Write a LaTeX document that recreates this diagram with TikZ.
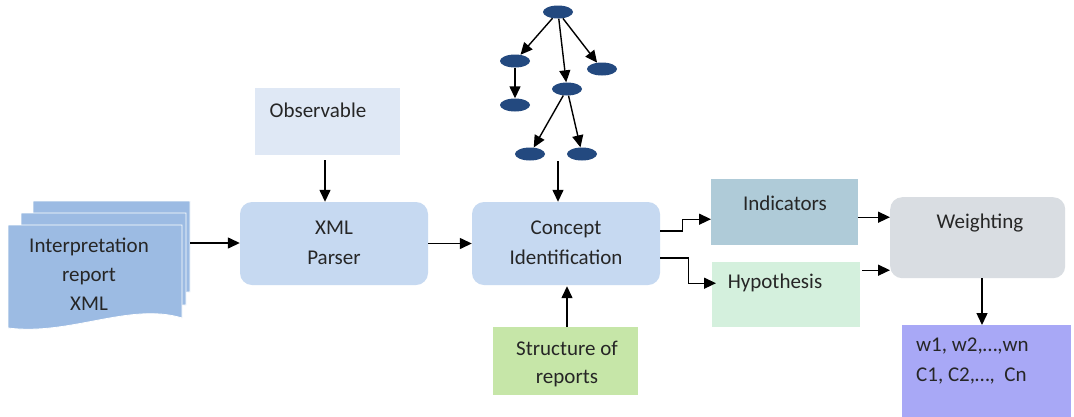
\documentclass[tikz,border=0pt]{standalone}
\usepackage{fontspec}
\setmainfont{Carlito}
\usetikzlibrary{arrows.meta,shapes.geometric}
\definecolor{docc}{HTML}{9CBBE3}
\definecolor{procc}{HTML}{C6D9F1}
\definecolor{obsc}{HTML}{DFE8F5}
\definecolor{indc}{HTML}{AFCBD8}
\definecolor{hypc}{HTML}{D4F0DD}
\definecolor{strc}{HTML}{C6E6A8}
\definecolor{weic}{HTML}{D9DDE2}
\definecolor{outc}{HTML}{A8A8F6}
\definecolor{treec}{HTML}{23497F}
\definecolor{txtc}{HTML}{262626}
\begin{document}
\begin{tikzpicture}[x=1pt,y=-1pt,
  txt/.style={font=\fontsize{21}{29}\selectfont, text=txtc, align=center, inner sep=0pt},
  rbox/.style={draw=none, rounded corners=12pt, inner sep=0pt},
  sbox/.style={draw=none, inner sep=0pt},
  arr/.style={draw=black, line width=1.4pt, -{Triangle[length=12pt,width=11pt]}},
  tnode/.style={ellipse, fill=treec, minimum width=30pt, minimum height=13pt, inner sep=0pt},
  tarr/.style={draw=black, line width=1.4pt, -{Triangle[length=12pt,width=11pt]}}
]
\useasboundingbox (0,0) rectangle (1074,416);
\fill[white] (0,0) rectangle (1074,416);

% document stack
\filldraw[fill=docc, draw=white, line width=0.8pt] (33,201) -- (190,201) -- (190,292) -- (33,300) -- cycle;
\filldraw[fill=docc, draw=white, line width=0.8pt] (21,213) -- (186,213) -- (186,305) -- (21,312) -- cycle;
\filldraw[fill=docc, draw=white, line width=0.8pt] (8,225) -- (182,225) -- (182,318)
  .. controls (130,302) and (70,336) .. (8,328) -- cycle;
\node[txt] (doc) at (89,274) {Interpretation\\report\\XML};
\coordinate (docR) at (190,243);

% main process boxes
\node[rbox, fill=procc, minimum width=188pt, minimum height=83pt] (parser) at (334,243.5) {};
\node[txt, font=\fontsize{21}{30}\selectfont] (parsert) at (334,243) {XML\\Parser};
\node[rbox, fill=procc, minimum width=188pt, minimum height=83pt] (concept) at (566,243.5) {};
\node[txt, font=\fontsize{21}{30}\selectfont] (conceptt) at (566,243) {Concept\\Identification};

% observable
\node[sbox, fill=obsc, minimum width=145pt, minimum height=67pt, anchor=north west] (obs) at (255,88) {};
\node[txt] (obst) at (318,110) {Observable};

% structure of reports
\node[sbox, fill=strc, minimum width=145pt, minimum height=68pt, anchor=north west] (str) at (493,327) {};
\node[txt, font=\fontsize{21}{28}\selectfont] (strt) at (567,364) {Structure of\\reports};

% indicators / hypothesis
\node[sbox, fill=indc, minimum width=147pt, minimum height=66pt, anchor=north west] (ind) at (711,179) {};
\node[txt] (indt) at (785,203) {Indicators};
\node[sbox, fill=hypc, minimum width=148pt, minimum height=65pt, anchor=north west] (hyp) at (712,262) {};
\node[txt] (hypt) at (775,283) {Hypothesis};

% weighting
\node[rbox, fill=weic, minimum width=175pt, minimum height=81pt, anchor=north west] (wei) at (890,197) {};
\node[txt] (weit) at (980,223) {Weighting};

% output
\node[sbox, fill=outc, minimum width=169pt, minimum height=95pt, anchor=north west] (out) at (902,325) {};
\node[txt, align=left, anchor=north west, font=\fontsize{21}{30}\selectfont] (outt) at (916,338) {w1, w2,…,wn\\C1, C2,…,\ \ Cn};

% tree
\node[tnode] (t0) at (558,12) {};
\node[tnode] (t1) at (515,61) {};
\node[tnode] (t2) at (602,69) {};
\node[tnode] (t3) at (567,89) {};
\node[tnode] (t4) at (515,105) {};
\node[tnode] (t5) at (530,154) {};
\node[tnode] (t6) at (582,154) {};
\draw[tarr] (t0) -- (t1);
\draw[tarr] (t0) -- (t2);
\draw[tarr] (t0) -- (t3);
\draw[tarr] (t1) -- (t4);
\draw[tarr] (t3) -- (t5);
\draw[tarr] (t3) -- (t6);
\coordinate (treeb) at (558,161);

% connectors
\draw[arr] (docR) -- (parser.west |- docR);
\draw[arr] ([yshift=-5pt]obs.south -| 325,0) -- (parser.north -| 325,0);
\draw[arr] (parser.east) -- (concept.west);
\draw[arr] (treeb) -- (concept.north -| treeb);
\draw[arr] (str.north -| 567,0) -- ([yshift=-1pt]concept.south -| 567,0);
\draw[arr] ([yshift=12.5pt]concept.east) -- ++(22,0) |- ([yshift=-7pt]ind.west);
\draw[arr] ([yshift=-14.5pt]concept.east) -- ++(28,0) |- ([yshift=11.5pt,xshift=4pt]hyp.west);
\draw[arr] ([yshift=-5pt]ind.east) -- ([yshift=-5pt]ind.east -| wei.west);
\draw[arr] ([yshift=24.5pt,xshift=2pt]hyp.east) -- ([yshift=24.5pt]hyp.east -| wei.west);
\draw[arr] (wei.south -| 982,0) -- (out.north -| 982,0);
\end{tikzpicture}
\end{document}
